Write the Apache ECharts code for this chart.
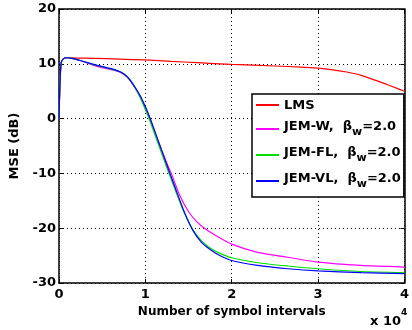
<!DOCTYPE html>
<html>
<head>
<meta charset="utf-8">
<script src="https://cdn.jsdelivr.net/npm/echarts@6/dist/echarts.min.js"></script>
<style>
  html, body { margin: 0; padding: 0; background: #fff; }
  #chart { width: 412px; height: 330px; }
</style>
</head>
<body>
<div id="chart"></div>
<script>
// MSE learning curves (dB) versus number of symbol intervals
const xTicks = [0, 10000, 20000, 30000, 40000];
const yTicks = [-30, -20, -10, 0, 10, 20];

const lmsX = [0, 100, 250, 500, 900, 2000, 4000, 7000, 10000, 13000, 16000, 20000, 25000, 28000, 30000, 31500, 33300, 35000, 37000, 38500, 40000];
const lmsY = [0, 6, 10.2, 10.9, 11.1, 11.05, 11.0, 10.85, 10.7, 10.45, 10.2, 9.9, 9.6, 9.4, 9.2, 8.95, 8.5, 7.9, 6.8, 5.9, 5.0];

const jemWX = [0, 100, 250, 500, 900, 1500, 2500, 4000, 5500, 7000, 8000, 8800, 9500, 10500, 11500, 12500, 13000, 14000, 15000, 16000, 17000, 18000, 20000, 23000, 26500, 30000, 35000, 40000];
const jemWY = [0, 6, 10.2, 10.9, 11.1, 11.0, 10.55, 9.7, 9.1, 8.5, 7.4, 5.6, 3.6, 0, -4.2, -8.2, -10, -14.1, -17.0, -18.9, -20.2, -21.2, -22.9, -24.4, -25.3, -26.2, -26.8, -27.1];

const jemFLX = [0, 100, 250, 500, 900, 1500, 2500, 4000, 5500, 7000, 8000, 8800, 9500, 10500, 11500, 12500, 13500, 14500, 15500, 16500, 17500, 18500, 20000, 23000, 26500, 30000, 35000, 40000];
const jemFLY = [0, 6, 10.2, 10.9, 11.1, 11.0, 10.6, 9.85, 9.25, 8.6, 7.5, 5.7, 3.5, -0.3, -4.7, -9.0, -13.2, -17.2, -20.3, -22.3, -23.6, -24.5, -25.4, -26.3, -26.9, -27.4, -27.9, -28.1];

const jemVLX = [0, 100, 250, 500, 900, 1500, 2500, 4000, 5500, 6500, 7200, 7800, 8300, 8900, 9500, 10500, 11500, 12500, 13500, 14500, 15500, 16500, 17500, 18500, 20000, 23000, 26500, 30000, 35000, 40000];
const jemVLY = [0, 6, 10.2, 10.9, 11.1, 11.0, 10.6, 9.9, 9.3, 8.9, 8.45, 7.8, 6.9, 5.5, 3.9, 0.3, -4.1, -8.5, -12.8, -17.0, -20.4, -22.6, -23.9, -24.9, -25.9, -26.8, -27.4, -27.8, -28.1, -28.3];

const seriesNames = ['LMS', 'JEM-W', 'JEM-FL', 'JEM-VL'];
const seriesColors = ['#ff0000', '#ff00ff', '#00e000', '#0000ff'];
const betaLabel = '2.0';

const FONT = 'DejaVu Sans';

function pairs(xs, ys) { return xs.map((x, i) => [x, ys[i]]); }
const seriesData = [pairs(lmsX, lmsY), pairs(jemWX, jemWY), pairs(jemFLX, jemFLY), pairs(jemVLX, jemVLY)];

const chart = echarts.init(document.getElementById('chart'), null, { renderer: 'canvas' });

const gridLine = { show: true, lineStyle: { color: '#000', type: [1, 3], width: 1 } };
const frame = { show: true, onZero: false, lineStyle: { color: '#000', width: 1.5 } };
const innerTick = { show: true, inside: true, length: 4, lineStyle: { color: '#000', width: 1 } };

chart.setOption({
  animation: false,
  backgroundColor: '#fff',
  grid: { left: 59, right: 3, top: 9, bottom: 47, containLabel: false },
  xAxis: [{
    type: 'value', min: xTicks[0], max: xTicks[xTicks.length - 1], interval: 10000,
    axisLine: frame, axisTick: innerTick, splitLine: gridLine,
    axisLabel: { color: '#000', fontFamily: FONT, fontWeight: 'bold', fontSize: 13, margin: 5,
      formatter: v => String(v / 10000) },
    name: 'Number of symbol intervals', nameLocation: 'middle', nameGap: 20,
    nameTextStyle: { color: '#000', fontFamily: FONT, fontWeight: 'bold', fontSize: 12 }
  }, {
    type: 'value', position: 'top', min: xTicks[0], max: xTicks[xTicks.length - 1], interval: 10000,
    axisLine: frame, axisTick: innerTick, splitLine: { show: false }, axisLabel: { show: false }
  }],
  yAxis: [{
    type: 'value', min: yTicks[0], max: yTicks[yTicks.length - 1], interval: 10,
    axisLine: frame, axisTick: innerTick, splitLine: gridLine,
    axisLabel: { color: '#000', fontFamily: FONT, fontWeight: 'bold', fontSize: 13, margin: 3 },
    name: 'MSE (dB)', nameLocation: 'middle', nameGap: 36, nameRotate: 90,
    nameTextStyle: { color: '#000', fontFamily: FONT, fontWeight: 'bold', fontSize: 13 }
  }, {
    type: 'value', position: 'right', min: yTicks[0], max: yTicks[yTicks.length - 1], interval: 10,
    axisLine: frame, axisTick: innerTick, splitLine: { show: false }, axisLabel: { show: false }
  }],
  legend: {
    data: seriesNames,
    orient: 'vertical',
    left: 252, top: 94,
    backgroundColor: '#fff',
    borderColor: '#000', borderWidth: 1.5, borderRadius: 0,
    padding: [5, 3, 7, 4],
    itemGap: 8,
    itemWidth: 23, itemHeight: 2, itemTextGap: 1,
    icon: 'rect',
    formatter: name => name === 'LMS' ? '{a|LMS}' : '{a|' + name + ',  β}{s|w}{a|=' + betaLabel + '}',
    textStyle: {
      color: '#000', fontFamily: FONT, fontWeight: 'bold', fontSize: 13,
      rich: {
        a: { color: '#000', fontFamily: FONT, fontWeight: 'bold', fontSize: 13, height: 18, verticalAlign: 'top', padding: [1, 0, 0, 0] },
        s: { color: '#000', fontFamily: FONT, fontWeight: 'bold', fontSize: 11, height: 18, verticalAlign: 'bottom', padding: [7, 0, 0, 0] }
      }
    }
  },
  graphic: [{
    type: 'text', left: 370, top: 308,
    style: {
      text: '{m|x 10}{p|4}',
      rich: {
        m: { fill: '#000', font: 'bold 13px "DejaVu Sans"', verticalAlign: 'bottom', padding: [7, 0, 0, 0] },
        p: { fill: '#000', font: 'bold 9px "DejaVu Sans"', verticalAlign: 'top' }
      }
    }
  }],
  series: seriesNames.map((n, i) => ({
    name: n, type: 'line', data: seriesData[i], showSymbol: false, symbol: 'none',
    smooth: 0.2, color: seriesColors[i],
    lineStyle: { color: seriesColors[i], width: 1.2 }, z: 2 + i
  }))
});
</script>
</body>
</html>
